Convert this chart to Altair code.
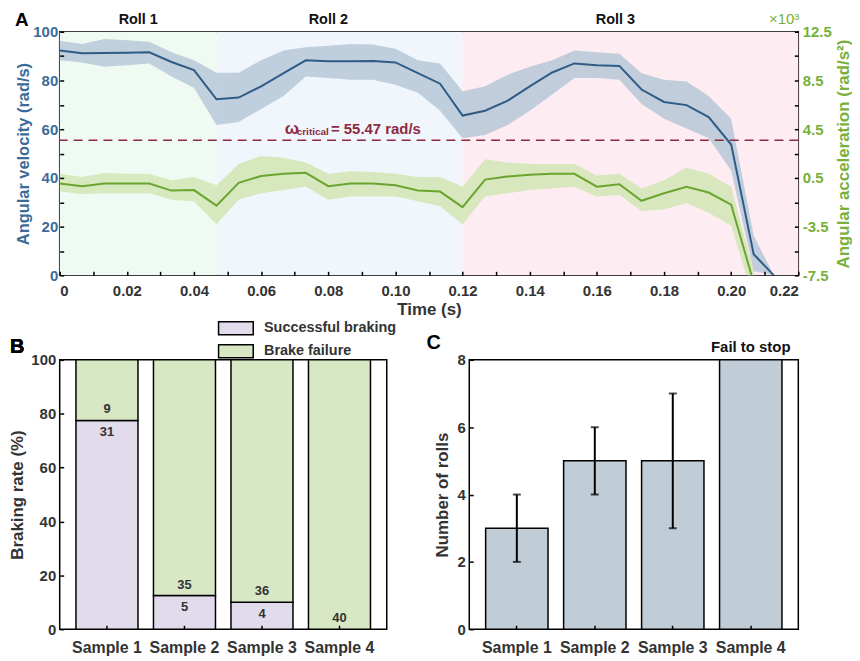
import altair as alt
import pandas as pd

FONT = "Liberation Sans"
BLUE_TXT = "#3b6b98"
GREEN_TXT = "#77b03a"
DARK = "#333333"
RED = "#8e2a40"

# ---------------- Panel A data ----------------
time = [0, 0.0067, 0.0133, 0.02, 0.0267, 0.0333, 0.04, 0.0467, 0.0533, 0.06,
        0.0667, 0.0733, 0.08, 0.0867, 0.0933, 0.1, 0.1067, 0.1133, 0.12, 0.1267,
        0.1333, 0.14, 0.1467, 0.1533, 0.16, 0.1667, 0.1733, 0.18, 0.1867, 0.1933,
        0.2, 0.2067, 0.2127]
vel = [92.3, 91.2, 91.3, 91.4, 91.6, 87.6, 84.3, 72.3, 73.0, 77.6,
       83.0, 88.3, 87.9, 87.9, 88.0, 87.4, 83.0, 78.7, 65.6, 67.6,
       71.6, 77.6, 83.3, 87.0, 86.3, 86.0, 76.3, 71.2, 69.9, 65.0,
       53.7, 8.7, 0.0]
vel_hi = [96.3, 95.0, 97.0, 96.5, 95.9, 91.6, 88.3, 83.2, 83.2, 88.3,
          92.3, 93.6, 94.3, 95.0, 94.8, 93.0, 88.3, 87.0, 75.6, 77.6,
          82.3, 85.6, 88.3, 92.3, 91.6, 91.0, 83.0, 80.3, 79.6, 73.6,
          64.3, 16.4, 0.0]
vel_lo = [88.3, 87.4, 85.6, 86.3, 87.0, 81.6, 77.0, 61.7, 63.0, 68.3,
          73.6, 81.6, 81.0, 80.3, 80.3, 78.3, 75.0, 67.6, 56.3, 57.6,
          61.6, 67.6, 74.3, 81.0, 81.0, 80.3, 70.3, 64.3, 60.3, 56.3,
          43.0, 1.7, 0.0]

acc = [0.04, -0.18, 0.04, 0.04, 0.04, -0.54, -0.5, -1.78, 0.1, 0.66,
       0.84, 0.92, -0.18, 0.04, 0.04, -0.1, -0.54, -0.62, -1.9, 0.36,
       0.62, 0.76, 0.84, 0.84, -0.22, -0.02, -1.38, -0.76, -0.22, -0.7,
       -1.7, -8.1]
acc_hi = [0.84, 0.58, 0.9, 0.84, 0.82, 0.3, 0.58, -0.1, 1.64, 2.3,
          2.16, 1.76, 0.84, 1.04, 0.98, 0.84, 0.58, 0.58, -0.22, 2.04,
          1.76, 1.64, 1.64, 1.64, 0.7, 0.84, -0.36, 0.3, 1.36, 0.84,
          -0.22, -7.16]
acc_lo = [-0.62, -0.82, -0.76, -0.76, -0.76, -1.3, -1.42, -3.3, -1.3, -0.76,
          -0.5, -0.22, -1.3, -1.02, -1.02, -1.02, -1.42, -1.82, -3.3, -1.02,
          -0.76, -0.5, -0.36, -0.22, -1.02, -0.9, -2.22, -2.1, -1.56, -2.36,
          -3.42, -9.5]

roll_names = ["Roll 1", "Roll 2", "Roll 3"]
roll_start = [0.0, 0.0467, 0.12]
roll_end = [0.0467, 0.12, 0.22]
roll_label_t = [0.0234, 0.080, 0.1655]
roll_colors = ["#eefaf2", "#f1f5fc", "#fdecf1"]

omega_crit = 55.47
omega_text = ["ω", "critical", "= 55.47 rad/s"]
omega_x = [0.0670, 0.0706, 0.0808]
omega_y = [60.2, 58.7, 60.0]
omega_fs = [17, 10, 15]

# ---------------- Panel B / C data ----------------
samples = ["Sample 1", "Sample 2", "Sample 3", "Sample 4"]
success = [31, 5, 4, 0]
failure = [9, 35, 36, 40]
rolls_mean = [3, 5, 5, 8]
rolls_lo = [2, 4, 3, None]
rolls_hi = [4, 6, 7, None]
fail_note = "Fail to stop"

# ---------------- tables ----------------
df_v = pd.DataFrame({"t": time, "v": vel, "hi": vel_hi, "lo": vel_lo})
df_a = pd.DataFrame({"t": time[:len(acc)], "a": acc, "hi": acc_hi, "lo": acc_lo})
df_roll = pd.DataFrame({"name": roll_names, "start": roll_start, "end": roll_end,
                        "mid": roll_label_t, "color": roll_colors})
df_rule = pd.DataFrame({"v": [omega_crit]})
df_omega = pd.DataFrame({"text": omega_text, "x": omega_x, "y": omega_y, "fs": omega_fs})

W, H = 743, 245
TICK_IN = alt.ExprRef(expr="-4")
PAD0 = {"left": 0, "top": 0, "right": 0, "bottom": 0}

xscale = alt.Scale(domain=[0, 0.22], nice=False, zero=False)
x_axis = alt.Axis(
    values=[round(i * 0.01, 2) for i in range(23)],
    labelExpr="round(datum.value*100) % 2 == 0 ? (datum.value == 0 ? '0' : format(datum.value, '.2f')) : ''",
    title="Time (s)", titleFontSize=17, titleColor=DARK, labelColor=DARK,
    labelFontSize=15, tickSize=TICK_IN, labelPadding=12, titlePadding=3,
    grid=False, domain=False, zindex=1,
)
yl_scale = alt.Scale(domain=[0, 100], nice=False)
yl_axis = alt.Axis(
    values=list(range(0, 101, 10)),
    labelExpr="datum.value % 20 == 0 ? datum.label : ''",
    title="Angular velocity (rad/s)", titleFontSize=16.5, titleColor=BLUE_TXT,
    labelColor=BLUE_TXT, labelFontSize=15, tickSize=TICK_IN, labelPadding=6,
    grid=False, domain=False, orient="left", titlePadding=1, zindex=1,
)
yr_scale = alt.Scale(domain=[-7.5, 12.5], nice=False, zero=False)
yr_axis = alt.Axis(
    values=[-7.5 + 2 * k for k in range(11)],
    labelExpr="(round((datum.value+7.5)/2) % 2 == 0) ? ('' + datum.value) : ''",
    title="Angular acceleration (rad/s²)", titleFontSize=17, titleColor=GREEN_TXT,
    labelColor=GREEN_TXT, labelFontSize=15, tickSize=TICK_IN, labelPadding=8,
    grid=False, domain=False, orient="right", titleAngle=270, titleBaseline="top",
    titlePadding=4, zindex=1,
)

X = lambda f: alt.X(f, type="quantitative", scale=xscale, axis=x_axis)
YL = lambda f: alt.Y(f, type="quantitative", scale=yl_scale, axis=yl_axis)
YR = lambda f: alt.Y(f, type="quantitative", scale=yr_scale, axis=yr_axis)

bg = alt.Chart(df_roll).mark_rect().encode(
    x=X("start"), x2="end", fill=alt.Fill("color:N", scale=None)
)

g_band = alt.Chart(df_a).mark_area(color="#d4e7b8", opacity=0.9, clip=True).encode(
    x=X("t"), y=YR("lo"), y2="hi"
)
g_line = alt.Chart(df_a).mark_line(color="#6ba52f", strokeWidth=2, clip=True).encode(
    x=X("t"), y=YR("a")
)
green = alt.layer(g_band, g_line)

b_band = alt.Chart(df_v).mark_area(color="#b7c8d8", opacity=0.85, clip=True).encode(
    x=X("t"), y=YL("lo"), y2="hi"
)
b_line = alt.Chart(df_v).mark_line(color="#2e5c87", strokeWidth=2, clip=True).encode(
    x=X("t"), y=YL("v")
)
rule = alt.Chart(df_rule).mark_rule(color=RED, strokeDash=[9, 6], strokeWidth=1.6).encode(
    y=YL("v")
)
omega = alt.Chart(df_omega).mark_text(
    color=RED, font=FONT, fontWeight="bold", align="left", baseline="middle"
).encode(
    x=X("x"), y=YL("y"), text="text:N", size=alt.Size("fs:Q", scale=None, legend=None)
)
roll_lab = alt.Chart(df_roll).mark_text(
    font=FONT, fontWeight="bold", fontSize=14.5, color="#111", baseline="middle"
).encode(x=X("mid"), y=alt.value(-12), text="name:N")
letter_a = alt.Chart(df_rule).mark_text(
    text="A", font=FONT, fontWeight="bold", fontSize=19, color="#000",
    align="left", baseline="middle"
).encode(x=alt.value(-45), y=alt.value(-12))
x1000 = alt.Chart(df_rule).mark_text(
    text="×10³", font=FONT, fontSize=15, color=GREEN_TXT, align="right", baseline="middle"
).encode(x=alt.value(W + 1), y=alt.value(-13))

blue = alt.layer(b_band, b_line, rule, omega, roll_lab, letter_a, x1000)

top = alt.layer(bg, green, blue).resolve_scale(y="independent").properties(width=W, height=H)

# ---------------- Panel B ----------------
rows = []
for i, s in enumerate(samples):
    tot = success[i] + failure[i]
    rows.append({"sample": s, "type": "Successful braking", "count": success[i],
                 "pct": success[i] / tot * 100, "ord": 0})
    rows.append({"sample": s, "type": "Brake failure", "count": failure[i],
                 "pct": failure[i] / tot * 100, "ord": 1})
df_b = pd.DataFrame(rows)
df_blab = pd.DataFrame({
    "sample": samples,
    "edge": [success[i] / (success[i] + failure[i]) * 100 for i in range(4)],
    "succ": success, "fail": failure,
})

WB, HB = 329, 271
band_x = alt.Scale(paddingInner=0.2, paddingOuter=0.21)
xb_axis = alt.Axis(title=None, labelAngle=0, labelFontSize=16, labelColor=DARK,
                   tickSize=TICK_IN, labelPadding=14, domain=False, zindex=1)
yb_axis = alt.Axis(values=list(range(0, 101, 10)),
                   labelExpr="datum.value % 20 == 0 ? datum.label : ''",
                   title="Braking rate (%)", titleFontSize=17, titleColor=DARK,
                   labelColor=DARK, labelFontSize=15, tickSize=TICK_IN, labelPadding=8,
                   grid=False, domain=False, titlePadding=4, zindex=1)
yb_scale = alt.Scale(domain=[0, 100], nice=False)

bars_b = alt.Chart(df_b).mark_bar(stroke="black", strokeWidth=1.5).encode(
    x=alt.X("sample:N", scale=band_x, axis=xb_axis, sort=samples),
    y=alt.Y("pct:Q", stack="zero", scale=yb_scale, axis=yb_axis),
    color=alt.Color("type:N",
                    scale=alt.Scale(domain=["Successful braking", "Brake failure"],
                                    range=["#e2dbeb", "#d8e8c5"]),
                    legend=alt.Legend(title=None, orient="none", legendX=170, legendY=-39,
                                      direction="vertical",
                                      symbolType="M-4,-1.5L4,-1.5L4,1.5L-4,1.5Z",
                                      symbolSize=76, symbolStrokeColor="black",
                                      symbolStrokeWidth=1.5, labelFontSize=14.5,
                                      labelFontWeight="bold", labelColor=DARK,
                                      labelOffset=21, rowPadding=3, symbolOpacity=1)),
    order=alt.Order("ord:Q"),
)
lab_fail = alt.Chart(df_blab).mark_text(
    font=FONT, fontWeight="bold", fontSize=13, color=DARK, dy=-11
).encode(x=alt.X("sample:N", sort=samples), y=alt.Y("edge:Q"), text="fail:Q")
lab_succ = alt.Chart(df_blab).transform_filter("datum.succ > 0").mark_text(
    font=FONT, fontWeight="bold", fontSize=13, color=DARK, dy=12
).encode(x=alt.X("sample:N", sort=samples), y=alt.Y("edge:Q"), text="succ:Q")
letter_b = alt.Chart(df_blab).mark_text(
    text="B", font=FONT, fontWeight="bold", fontSize=20, color="#000",
    align="left", baseline="middle"
).encode(x=alt.value(-50), y=alt.value(-13))

panel_b = alt.layer(bars_b, lab_fail, lab_succ, letter_b).properties(width=WB, height=HB)

# ---------------- Panel C ----------------
df_c = pd.DataFrame({"sample": samples, "mean": rolls_mean, "lo": rolls_lo, "hi": rolls_hi})
df_err = df_c.dropna()
df_note = pd.DataFrame({"sample": [samples[3]], "y": [rolls_mean[3]], "text": [fail_note]})

WC, HC = 331, 271
yc_scale = alt.Scale(domain=[0, 8], nice=False)
yc_axis = alt.Axis(values=list(range(0, 9)),
                   labelExpr="datum.value % 2 == 0 ? datum.label : ''",
                   title="Number of rolls", titleFontSize=17, titleColor=DARK,
                   labelColor=DARK, labelFontSize=15, tickSize=TICK_IN, labelPadding=8,
                   grid=False, domain=False, titlePadding=6, zindex=1)
xc = alt.X("sample:N", scale=band_x, axis=xb_axis, sort=samples)

bars_c = alt.Chart(df_c).mark_bar(color="#c0ccd6", stroke="black", strokeWidth=1.5).encode(
    x=xc, y=alt.Y("mean:Q", scale=yc_scale, axis=yc_axis)
)
err = alt.Chart(df_err).mark_rule(color="black", strokeWidth=2).encode(
    x=xc, y=alt.Y("lo:Q"), y2="hi:Q"
)
cap_lo = alt.Chart(df_err).mark_tick(color="black", thickness=2, size=8).encode(
    x=xc, y=alt.Y("lo:Q")
)
cap_hi = alt.Chart(df_err).mark_tick(color="black", thickness=2, size=8).encode(
    x=xc, y=alt.Y("hi:Q")
)
note = alt.Chart(df_note).mark_text(
    font=FONT, fontWeight="bold", fontSize=15, color="#111", dy=-13
).encode(x=xc, y=alt.Y("y:Q"), text="text:N")
letter_c = alt.Chart(df_note).mark_text(
    text="C", font=FONT, fontWeight="bold", fontSize=20, color="#000",
    align="left", baseline="middle"
).encode(x=alt.value(-43), y=alt.value(-17))

panel_c = alt.layer(bars_c, err, cap_lo, cap_hi, note, letter_c).properties(width=WC, height=HC)

bottom = alt.hconcat(panel_b, panel_c, spacing=28).resolve_scale(
    color="independent").resolve_legend(color="independent")

chart = alt.concat(top, bottom, columns=1, spacing=2, align="none").resolve_scale(
    color="independent").resolve_legend(color="independent").properties(
    padding=PAD0
).configure(
    font=FONT
).configure_view(
    stroke="black", strokeWidth=1.5
).configure_axis(
    labelFont=FONT, titleFont=FONT, labelFontWeight="bold", titleFontWeight="bold",
    tickColor="black", tickWidth=1.5, grid=False
).configure_legend(
    labelFont=FONT
)

chart.save("out.html", embed_options={"renderer": "svg", "actions": False})
